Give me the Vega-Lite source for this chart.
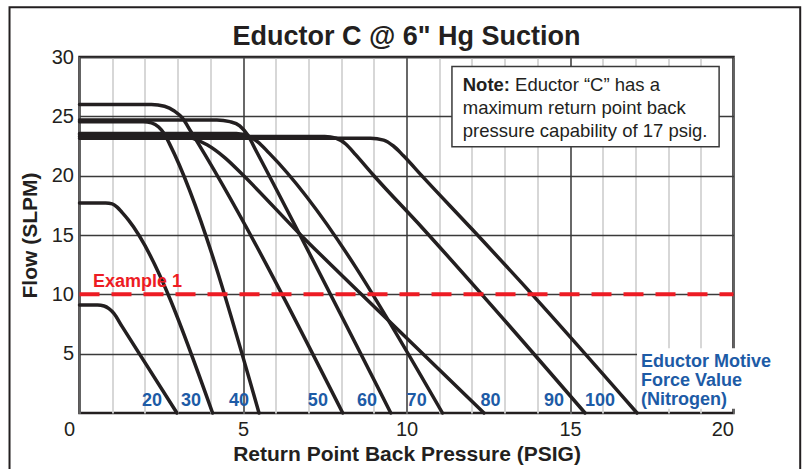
{
  "$schema": "https://vega.github.io/schema/vega-lite/v6.json",
  "width": 654,
  "height": 356,
  "autosize": {"type": "none"},
  "padding": {"left": 79.5, "top": 57, "right": 75.5, "bottom": 56},
  "background": "white",
  "title": {
    "text": "Eductor C @ 6\" Hg Suction",
    "font": "Liberation Sans",
    "fontSize": 27,
    "fontWeight": "bold",
    "color": "#231f20",
    "anchor": "middle",
    "frame": "group",
    "baseline": "alphabetic",
    "offset": -66
  },
  "config": {
    "view": {"stroke": "#231f20", "strokeWidth": 2.5},
    "font": "Liberation Sans"
  },
  "resolve": {"axis": {"x": "independent"}},
  "datasets": {
    "one": [{}],
    "curves": [
      {"curve": "20", "x": 0, "y": 9.1}, {"curve": "20", "x": 0.55, "y": 9.1}, {"curve": "20", "x": 0.75, "y": 9.02}, {"curve": "20", "x": 0.9, "y": 8.8}, {"curve": "20", "x": 1.05, "y": 8.4}, {"curve": "20", "x": 1.3, "y": 7.3}, {"curve": "20", "x": 2.98, "y": 0},
      {"curve": "30", "x": 0, "y": 17.7}, {"curve": "30", "x": 0.8, "y": 17.7}, {"curve": "30", "x": 1.0, "y": 17.62}, {"curve": "30", "x": 1.15, "y": 17.35}, {"curve": "30", "x": 1.3, "y": 16.9}, {"curve": "30", "x": 1.5, "y": 16.25}, {"curve": "30", "x": 4.07, "y": 0},
      {"curve": "40", "x": 0, "y": 24.55}, {"curve": "40", "x": 1.95, "y": 24.55}, {"curve": "40", "x": 2.2, "y": 24.45}, {"curve": "40", "x": 2.42, "y": 24.1}, {"curve": "40", "x": 2.6, "y": 23.5}, {"curve": "40", "x": 2.75, "y": 22.7}, {"curve": "40", "x": 5.49, "y": 0},
      {"curve": "50", "x": 0, "y": 26.0}, {"curve": "50", "x": 2.2, "y": 26.0}, {"curve": "50", "x": 2.6, "y": 25.85}, {"curve": "50", "x": 2.9, "y": 25.45}, {"curve": "50", "x": 3.15, "y": 24.85}, {"curve": "50", "x": 3.4, "y": 23.75}, {"curve": "50", "x": 8.05, "y": 0},
      {"curve": "60", "x": 0, "y": 24.7}, {"curve": "60", "x": 4.2, "y": 24.7}, {"curve": "60", "x": 4.6, "y": 24.55}, {"curve": "60", "x": 4.9, "y": 24.2}, {"curve": "60", "x": 5.15, "y": 23.4}, {"curve": "60", "x": 5.4, "y": 22.1}, {"curve": "60", "x": 9.52, "y": 0},
      {"curve": "70", "x": 0, "y": 23.55}, {"curve": "70", "x": 4.8, "y": 23.55}, {"curve": "70", "x": 5.15, "y": 23.35}, {"curve": "70", "x": 5.45, "y": 22.85}, {"curve": "70", "x": 5.8, "y": 21.9}, {"curve": "70", "x": 11.1, "y": 0},
      {"curve": "80", "x": 0, "y": 23.45}, {"curve": "80", "x": 2.9, "y": 23.45}, {"curve": "80", "x": 3.4, "y": 23.2}, {"curve": "80", "x": 3.9, "y": 22.6}, {"curve": "80", "x": 4.45, "y": 21.5}, {"curve": "80", "x": 5.0, "y": 20.05}, {"curve": "80", "x": 6.75, "y": 15.05}, {"curve": "80", "x": 8.62, "y": 10}, {"curve": "80", "x": 12.37, "y": 0},
      {"curve": "90", "x": 0, "y": 23.3}, {"curve": "90", "x": 7.5, "y": 23.3}, {"curve": "90", "x": 7.85, "y": 23.15}, {"curve": "90", "x": 8.15, "y": 22.65}, {"curve": "90", "x": 8.45, "y": 21.75}, {"curve": "90", "x": 8.97, "y": 20.1}, {"curve": "90", "x": 10.5, "y": 15.55}, {"curve": "90", "x": 12.3, "y": 10}, {"curve": "90", "x": 15.46, "y": 0},
      {"curve": "100", "x": 0, "y": 23.15}, {"curve": "100", "x": 8.9, "y": 23.15}, {"curve": "100", "x": 9.3, "y": 23.0}, {"curve": "100", "x": 9.6, "y": 22.5}, {"curve": "100", "x": 9.9, "y": 21.7}, {"curve": "100", "x": 10.5, "y": 19.9}, {"curve": "100", "x": 12.0, "y": 15.5}, {"curve": "100", "x": 13.84, "y": 10}, {"curve": "100", "x": 17.05, "y": 0}
    ],
    "labels": [
      {"label": "20", "x": 2.22, "y": 0.57},
      {"label": "30", "x": 3.41, "y": 0.57},
      {"label": "40", "x": 4.88, "y": 0.57},
      {"label": "50", "x": 7.29, "y": 0.57},
      {"label": "60", "x": 8.79, "y": 0.57},
      {"label": "70", "x": 10.31, "y": 0.57},
      {"label": "80", "x": 12.57, "y": 0.57},
      {"label": "90", "x": 14.51, "y": 0.57},
      {"label": "100", "x": 15.92, "y": 0.57}
    ],
    "motive": [
      {"text": "Eductor Motive", "x": 17.17, "y": 3.86},
      {"text": "Force Value", "x": 17.17, "y": 2.25},
      {"text": "(Nitrogen)", "x": 17.17, "y": 0.65}
    ],
    "note": [
      {"text": "Eductor “C” has a", "x": 13.32, "y": 27.12},
      {"text": "maximum return point back", "x": 11.72, "y": 25.23},
      {"text": "pressure capability of 17 psig.", "x": 11.72, "y": 23.3}
    ]
  },
  "layer": [
    {
      "data": {"name": "curves"},
      "mark": {"type": "line", "interpolate": "monotone", "strokeWidth": 3.5, "color": "#231f20", "strokeCap": "round", "strokeJoin": "round"},
      "encoding": {
        "x": {
          "field": "x", "type": "quantitative",
          "scale": {"domain": [0, 20], "nice": false, "zero": false},
          "axis": {
            "orient": "bottom",
            "values": [0,1,2,3,4,5,6,7,8,9,10,11,12,13,14,15,16,17,18,19,20],
            "grid": true,
            "gridColor": "#d3d3d3",
            "gridWidth": 1.8,
            "ticks": false,
            "domain": false,
            "labels": false,
            "title": null,
            "minExtent": 0,
            "maxExtent": 0
          }
        },
        "y": {
          "field": "y", "type": "quantitative",
          "scale": {"domain": [0, 30], "nice": false},
          "axis": {
            "values": [5, 10, 15, 20, 25, 30],
            "grid": true,
            "gridColor": "#3a3a3a",
            "gridWidth": 1.4,
            "ticks": false,
            "domain": false,
            "labelFont": "Liberation Sans",
            "labelFontSize": 20,
            "labelColor": "#231f20",
            "labelPadding": 6,
            "title": "Flow (SLPM)",
            "titleFont": "Liberation Sans",
            "titleFontSize": 21,
            "titleFontWeight": "bold",
            "titleColor": "#231f20",
            "titleAngle": -90,
            "titleBaseline": "alphabetic",
            "titleAlign": "center",
            "titleX": -43.5,
            "titleY": 178
          }
        },
        "detail": {"field": "curve", "type": "nominal"}
      }
    },
    {
      "data": {"name": "one"},
      "mark": {"type": "rule", "color": "#ed1c24", "strokeWidth": 4, "strokeDash": [20, 12]},
      "encoding": {
        "x": {
          "datum": 0, "type": "quantitative",
          "axis": {
            "orient": "bottom",
            "values": [0, 5, 10, 15, 20],
            "grid": true,
            "gridColor": "#3a3a3a",
            "gridWidth": 1.4,
            "ticks": false,
            "domain": false,
            "labelOverlap": false,
            "labelFlush": false,
            "labelAlign": {"condition": {"test": "datum.value === 0 || datum.value === 20", "value": "right"}, "value": "center"},
            "labelOffset": {"condition": {"test": "datum.value === 0", "value": -5}, "value": 0},
            "labelFont": "Liberation Sans",
            "labelFontSize": 20,
            "labelColor": "#231f20",
            "labelPadding": 6,
            "title": "Return Point Back Pressure (PSIG)",
            "titleFont": "Liberation Sans",
            "titleFontSize": 21,
            "titleFontWeight": "bold",
            "titleColor": "#231f20",
            "titleBaseline": "alphabetic",
            "titleX": 327,
            "titleY": 47,
            "titleAlign": "center"
          }
        },
        "x2": {"datum": 20},
        "y": {"datum": 10, "type": "quantitative"}
      }
    },
    {
      "data": {"name": "one"},
      "mark": {"type": "text", "text": "Example 1", "font": "Liberation Sans", "fontSize": 18, "fontWeight": "bold", "color": "#ed1c24", "align": "left", "baseline": "alphabetic"},
      "encoding": {
        "x": {"datum": 0.41, "type": "quantitative", "axis": null},
        "y": {"datum": 10.6, "type": "quantitative"}
      }
    },
    {
      "data": {"name": "one"},
      "mark": {"type": "rect", "fill": "white", "stroke": "#3a3a3a", "strokeWidth": 1.5},
      "encoding": {
        "x": {"datum": 11.39, "type": "quantitative", "axis": null},
        "x2": {"datum": 19.56},
        "y": {"datum": 29.2, "type": "quantitative"},
        "y2": {"datum": 22.43}
      }
    },
    {
      "data": {"name": "one"},
      "mark": {"type": "text", "text": "Note:", "font": "Liberation Sans", "fontSize": 18.5, "fontWeight": "bold", "color": "#231f20", "align": "left", "baseline": "alphabetic"},
      "encoding": {
        "x": {"datum": 11.72, "type": "quantitative", "axis": null},
        "y": {"datum": 27.12, "type": "quantitative"}
      }
    },
    {
      "data": {"name": "note"},
      "mark": {"type": "text", "font": "Liberation Sans", "fontSize": 18.5, "color": "#231f20", "align": "left", "baseline": "alphabetic"},
      "encoding": {
        "x": {"field": "x", "type": "quantitative", "axis": null},
        "y": {"field": "y", "type": "quantitative"},
        "text": {"field": "text"}
      }
    },
    {
      "data": {"name": "one"},
      "mark": {"type": "rect", "fill": "white", "clip": false},
      "encoding": {
        "x": {"datum": 17.05, "type": "quantitative", "axis": null},
        "x2": {"datum": 21.4},
        "y": {"datum": 5.45, "type": "quantitative"},
        "y2": {"datum": 0.35}
      }
    },
    {
      "data": {"name": "motive"},
      "mark": {"type": "text", "font": "Liberation Sans", "fontSize": 18, "fontWeight": "bold", "color": "#1d5ba6", "align": "left", "baseline": "alphabetic"},
      "encoding": {
        "x": {"field": "x", "type": "quantitative", "axis": null},
        "y": {"field": "y", "type": "quantitative"},
        "text": {"field": "text"}
      }
    },
    {
      "data": {"name": "labels"},
      "mark": {"type": "text", "font": "Liberation Sans", "fontSize": 18, "fontWeight": "bold", "color": "#1d5ba6", "align": "center", "baseline": "alphabetic"},
      "encoding": {
        "x": {"field": "x", "type": "quantitative", "axis": null},
        "y": {"field": "y", "type": "quantitative"},
        "text": {"field": "label"}
      }
    },
    {
      "data": {"name": "one"},
      "mark": {"type": "rect", "fill": null, "stroke": "#231f20", "strokeWidth": 2, "clip": false},
      "encoding": {
        "x": {"datum": -2.14, "type": "quantitative", "axis": null},
        "x2": {"datum": 22.04},
        "y": {"datum": 34.2, "type": "quantitative"},
        "y2": {"datum": -5.5}
      }
    }
  ]
}
